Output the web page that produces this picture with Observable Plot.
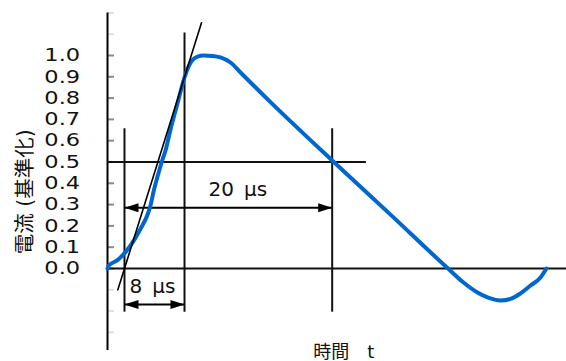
<!DOCTYPE html>
<html><head><meta charset="utf-8">
<script src="https://cdn.jsdelivr.net/npm/d3@7"></script>
<script src="https://cdn.jsdelivr.net/npm/@observablehq/plot@0.6"></script>
<style>html,body{margin:0;padding:0;background:#fff;}</style>
</head><body><div id="chart"></div>
<script>
// Normalised 8/20 µs surge current waveform (schematic time units)
const curveT = [0, 0.28, 2.11, 3.92, 5.73, 7.19, 8.65, 9.37, 10.09, 10.96, 11.92, 12.64, 13.73, 15.25, 16.78, 17.65, 18.52, 19.61, 20.92, 22.88, 24.62, 26.80, 28.98, 35.51, 48.95, 61.66, 74.18, 77.56, 80.61, 82.79, 85.62, 87.80, 89.98, 92.16, 94.34, 95.64];
const curveI = [0, 0.014, 0.038, 0.077, 0.131, 0.186, 0.249, 0.296, 0.366, 0.437, 0.507, 0.554, 0.653, 0.775, 0.897, 0.948, 0.979, 0.995, 1.000, 0.998, 0.991, 0.967, 0.920, 0.781, 0.507, 0.253, 0, -0.066, -0.113, -0.136, -0.150, -0.143, -0.117, -0.080, -0.042, 0];

// tangent through 10 %/90 % points
const tangentT = [2.25, 20.48];
const tangentI = [-0.1, 1.154];

// vertical guide lines: virtual origin O1, front time T1, half-value time T2
const guideT = [3.70, 16.78, 48.95];
const guideTop = [0.656, 1.106, 0.656];
const guideBottom = [-0.205, -0.205, -0.205];

// horizontal reference levels
const levelI = [0, 0.5];
const levelEnd = [100, 56.4];

// dimension arrows
const arrowLabels = ["20 µs", "8 µs"];
const arrowI = [0.285, -0.169];
const arrowStart = [3.70, 3.70];
const arrowEnd = [48.95, 16.78];

// y ticks
const yTicks = [-0.3, -0.2, -0.1, 0, 0.1, 0.2, 0.3, 0.4, 0.5, 0.6, 0.7, 0.8, 0.9, 1.0, 1.1, 1.2];
const yTickLabels = ["0.0", "0.1", "0.2", "0.3", "0.4", "0.5", "0.6", "0.7", "0.8", "0.9", "1.0"];

const yLabel = "電流 (基準化)";
const xLabel = "時間\u2003t";

const curve = curveT.map((t, i) => ({t, v: curveI[i]}));
const tangent = tangentT.map((t, i) => ({t, v: tangentI[i]}));
const guides = guideT.map((t, i) => ({t, top: guideTop[i], bottom: guideBottom[i]}));
const levels = levelI.map((v, i) => ({v, end: levelEnd[i]}));
const arrows = arrowI.map((v, i) => ({v, x1: arrowStart[i], x2: arrowEnd[i], label: arrowLabels[i]}));
const labelTicks = yTickLabels.map(s => ({v: +s, s}));

const headRight = {draw(ctx) { ctx.moveTo(0, 0); ctx.lineTo(-14, -4.5); ctx.lineTo(-14, 4.5); ctx.closePath(); }};
const headLeft = {draw(ctx) { ctx.moveTo(0, 0); ctx.lineTo(14, -4.5); ctx.lineTo(14, 4.5); ctx.closePath(); }};

const font = "DejaVu Sans, Noto Sans CJK JP, sans-serif";
const labelOffset = -27.5;

const chart = Plot.plot({
  width: 566,
  height: 361,
  marginLeft: 107,
  marginRight: 0,
  marginTop: 12.4,
  marginBottom: 11,
  style: {background: "white", fontFamily: font},
  x: {domain: [0, 100], axis: null},
  y: {domain: [-0.385, 1.2], axis: null},
  marks: [
    Plot.ruleY(yTicks, {x1: 0, x2: 1.52, stroke: d => (d >= -0.001 && d <= 1.001) ? "#8a8a8a" : "#dedede", strokeWidth: 2}),
    Plot.ruleX([0], {y1: -0.385, y2: 1.2, stroke: "black", strokeWidth: 2}),
    Plot.ruleY(levels, {y: "v", x1: 0, x2: "end", stroke: "#111", strokeWidth: 2}),
    Plot.ruleX(guides, {x: "t", y1: "bottom", y2: "top", stroke: "#111", strokeWidth: 2}),
    Plot.ruleY(arrows, {y: "v", x1: "x1", x2: "x2", stroke: "black", strokeWidth: 2}),
    Plot.dot(arrows, {x: "x1", y: "v", symbol: headLeft, fill: "black", stroke: "none"}),
    Plot.dot(arrows, {x: "x2", y: "v", symbol: headRight, fill: "black", stroke: "none"}),
    Plot.line(curve, {x: "t", y: "v", stroke: "#0066d2", strokeWidth: 4, curve: "monotone-x", strokeLinejoin: "round", strokeLinecap: "round"}),
    Plot.line(tangent, {x: "t", y: "v", stroke: "black", strokeWidth: 1.6}),
    Plot.text(labelTicks, {x: 0, y: "v", text: "s", dx: labelOffset, textAnchor: "end", fontSize: 18, fill: "#111"}),
    Plot.text([arrowLabels[0]], {x: 28.4, y: 0.340, text: d => d.replace(" ", "\u2002"), lineAnchor: "bottom", fontSize: 20, fill: "#111"}),
    Plot.text([arrowLabels[1]], {x: 9.8, y: -0.117, text: d => d.replace(" ", "\u2002"), lineAnchor: "bottom", fontSize: 20, fill: "#111"}),
    Plot.text([yLabel], {frameAnchor: "left", y: 0.36, dx: -82.5, rotate: -90, textAnchor: "middle", lineAnchor: "middle", fontSize: 20.5, fill: "#111"}),
    Plot.text([xLabel], {x: 51.5, y: -0.42, lineAnchor: "bottom", fontSize: 18, fill: "#111"})
  ]
});

// horizontally widen the tick labels (as in the reference) by wrapping their group
try {
  const first = Array.from(chart.querySelectorAll("text")).find(t => /^\d\.\d$/.test(t.textContent.trim()));
  if (first) {
    const g = first.parentNode;
    const ax = chart.scale("x").apply(0) + labelOffset;
    const wrap = document.createElementNS("http://www.w3.org/2000/svg", "g");
    wrap.setAttribute("transform", `translate(${ax},0) scale(1.25,1) translate(${-ax},0)`);
    g.parentNode.insertBefore(wrap, g);
    wrap.appendChild(g);
  }
} catch (e) { console.error(e); }

document.getElementById("chart").appendChild(chart);
</script></body></html>
